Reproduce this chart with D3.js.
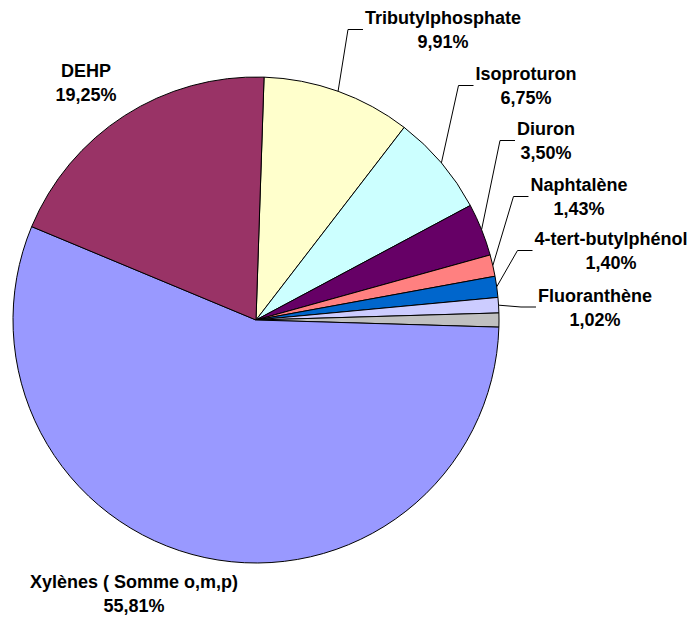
<!DOCTYPE html>
<html>
<head>
<meta charset="utf-8">
<script src="https://cdn.jsdelivr.net/npm/d3@7"></script>
<style>
  html, body { margin: 0; padding: 0; background: #fff; }
  svg text { font-family: "Liberation Sans", Arial, sans-serif; font-weight: bold; font-size: 18px; fill: #000; }
</style>
</head>
<body>
<svg id="chart" width="693" height="619"></svg>
<script>
// ---- data ----
const categories = ["Tributylphosphate", "Isoproturon", "Diuron", "Naphtalène", "4-tert-butylphénol", "Fluoranthène", "Autres", "Xylènes ( Somme o,m,p)", "DEHP"];
const values = [9.91, 6.75, 3.50, 1.43, 1.40, 1.02, 0.93, 55.81, 19.25];
const valueLabels = ["9,91%", "6,75%", "3,50%", "1,43%", "1,40%", "1,02%", "", "55,81%", "19,25%"];
const colors = ["#FFFFCC", "#CCFFFF", "#660066", "#FF8080", "#0066CC", "#CCCCFF", "#C0C0C0", "#9999FF", "#993366"];
const showLabel = [true, true, true, true, true, true, false, true, true];
const hasLeader = [true, true, true, true, true, true, false, false, false];

// ---- layout (label placement, pixels) ----
const cx = 256, cy = 320, radius = 243;
const startDeg = 1.9;
const labelPos = [ // [center x, vertical middle y] of each label block
  [443, 29.5], [526, 85.5], [546, 140.5], [579, 196.5], [611, 250.5], [595, 307], null, [134, 593.5], [86, 82]
];

const svg = d3.select("#chart");
const g = svg.append("g").attr("transform", `translate(${cx},${cy})`);

const data = categories.map((c, i) => ({ name: c, value: values[i], i }));
const start = startDeg * Math.PI / 180;
const pie = d3.pie().sort(null).value(d => d.value).startAngle(start).endAngle(start + 2 * Math.PI);
const arc = d3.arc().innerRadius(0).outerRadius(radius);
const arcs = pie(data);

g.selectAll("path.slice").data(arcs).enter().append("path")
  .attr("class", "slice")
  .attr("d", arc)
  .attr("fill", d => colors[d.data.i])
  .attr("stroke", "#000")
  .attr("stroke-width", 1)
  .attr("stroke-linejoin", "round");

// labels
const lg = svg.append("g");
arcs.forEach(a => {
  const i = a.data.i;
  if (!showLabel[i]) return;
  const [lx, my] = labelPos[i];
  const t = lg.append("text").attr("text-anchor", "middle");
  t.append("tspan").attr("x", lx).attr("y", my - 5.5).text(categories[i]);
  t.append("tspan").attr("x", lx).attr("y", my + 18.5).text(valueLabels[i]);
  if (hasLeader[i]) {
    const w = t.node().getBBox();
    const left = w.x;
    const mid = (a.startAngle + a.endAngle) / 2;
    const px = cx + radius * Math.sin(mid), py = cy - radius * Math.cos(mid);
    const ex = left - 17;
    const line = d3.line();
    let pts;
    if (ex > px + 2) pts = [[px, py], [ex, my], [left - 2, my]];
    else pts = [[px, py], [left - 2, my]];
    lg.append("path").attr("d", line(pts)).attr("fill", "none").attr("stroke", "#000").attr("stroke-width", 1);
  }
});
</script>
</body>
</html>
